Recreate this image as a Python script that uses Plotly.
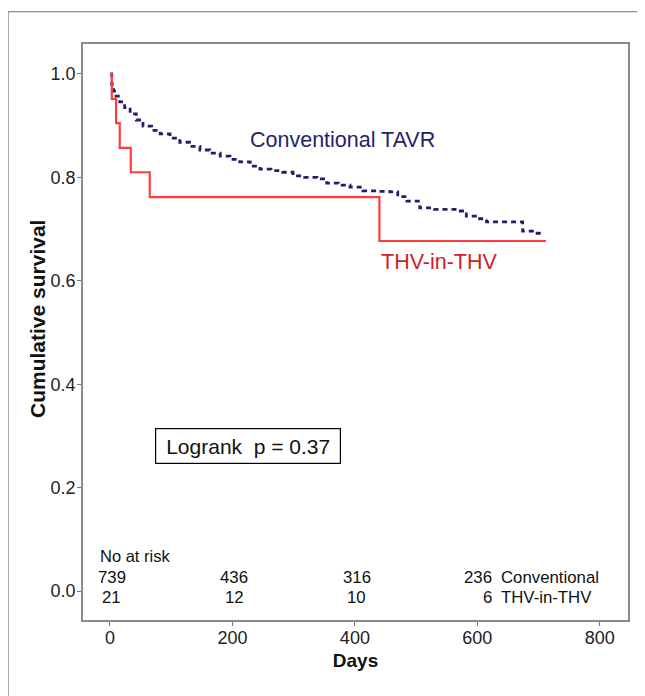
import plotly.graph_objects as go

# ---- data ----
conv_days = [0, 3, 6, 10, 16, 24, 33, 43, 54, 68, 82, 98, 114, 130, 147, 163, 180, 196,
             212, 229, 245, 263, 282, 299, 318, 338, 354, 373, 392, 413, 435, 457, 470,
             485, 506, 530, 566, 582, 600, 615, 640, 656, 674, 690, 710]
conv_surv = [1.0, 0.980, 0.967, 0.957, 0.946, 0.935, 0.923, 0.911, 0.899, 0.891, 0.884,
             0.876, 0.868, 0.860, 0.853, 0.847, 0.841, 0.835, 0.830, 0.822, 0.816, 0.813,
             0.810, 0.803, 0.800, 0.797, 0.789, 0.785, 0.781, 0.774, 0.773, 0.772, 0.763,
             0.754, 0.741, 0.738, 0.735, 0.725, 0.720, 0.714, 0.714, 0.714, 0.696, 0.692,
             0.692]

thv_days = [0, 3, 10, 16, 34, 65, 440, 712]
thv_surv = [1.0, 0.952, 0.905, 0.857, 0.810, 0.762, 0.677, 0.677]

risk_times = [0, 200, 400, 600]
risk_conv = [739, 436, 316, 236]
risk_thv = [21, 12, 10, 6]
risk_groups = ["Conventional", "THV-in-THV"]

x_ticks = [0, 200, 400, 600, 800]
y_ticks = [0.0, 0.2, 0.4, 0.6, 0.8, 1.0]
y_tick_text = ["0.0", "0.2", "0.4", "0.6", "0.8", "1.0"]

FONT = "Liberation Sans, Arial, sans-serif"
NAVY = "#1f1f6e"
RED_LINE = "#ff3b3b"
RED_TEXT = "#cc1f24"

fig = go.Figure()
fig.add_trace(go.Scatter(x=conv_days, y=conv_surv, mode="lines", line_shape="hv",
                         line=dict(color=NAVY, width=2.8, dash="5px,4px"),
                         name="Conventional TAVR", showlegend=False))
fig.add_trace(go.Scatter(x=thv_days, y=thv_surv, mode="lines", line_shape="hv",
                         line=dict(color=RED_LINE, width=2.2),
                         name="THV-in-THV", showlegend=False))

ann = []
ann.append(dict(x=226, y=0.873, xref="x", yref="y", text="Conventional TAVR",
                showarrow=False, xanchor="left", yanchor="middle",
                font=dict(family=FONT, size=21.5, color=NAVY)))
ann.append(dict(x=439, y=0.636, xref="x", yref="y", text="THV-in-THV",
                showarrow=False, xanchor="left", yanchor="middle",
                font=dict(family=FONT, size=21.5, color=RED_TEXT)))
ann.append(dict(x=226, y=0.281, xref="x", yref="y", text="Logrank\u00a0 p = 0.37",
                showarrow=False, xanchor="center", yanchor="middle",
                width=178, height=28, borderpad=3, bordercolor="#000000", borderwidth=1.2,
                bgcolor="white", font=dict(family=FONT, size=21, color="#111111")))
ann.append(dict(x=-20, y=0.068, xref="x", yref="y", text="No at risk",
                showarrow=False, xanchor="left", yanchor="middle",
                font=dict(family=FONT, size=16.5, color="#111111")))
for rows, yv in ((risk_conv, 0.027), (risk_thv, -0.012)):
    for i, (t, v) in enumerate(zip(risk_times, rows)):
        last = i == len(risk_times) - 1
        ann.append(dict(x=t, y=yv, xref="x", yref="y", text=str(v), showarrow=False,
                        xanchor="right" if last else "center", yanchor="middle",
                        xshift=17 if last else 2,
                        font=dict(family=FONT, size=16.8, color="#111111")))
for name, yv in zip(risk_groups, (0.027, -0.012)):
    ann.append(dict(x=600, y=yv, xref="x", yref="y", text=name, showarrow=False,
                    xanchor="left", yanchor="middle", xshift=22,
                    font=dict(family=FONT, size=16.8, color="#111111")))
# y-axis title (placed as annotation to match the reference position)
ann.append(dict(x=-0.0826, y=0.5226, xref="paper", yref="paper",
                text="<b>Cumulative survival</b>", textangle=-90, showarrow=False,
                xanchor="center", yanchor="middle",
                font=dict(family=FONT, size=21, color="#111111")))

fig.update_layout(
    width=637, height=688,
    margin=dict(l=75, r=17, t=36, b=76),
    paper_bgcolor="white", plot_bgcolor="white",
    font=dict(family=FONT, color="#222222"),
    annotations=ann,
    shapes=[dict(type="rect", xref="paper", yref="paper",
                 x0=-0.1376, x1=1.2, y0=-0.3, y1=1.056,
                 line=dict(color="#6e6e6e", width=1.2), fillcolor="rgba(0,0,0,0)",
                 layer="below")],
)
fig.update_xaxes(range=[-44, 846], tickvals=x_ticks, ticks="outside", ticklen=4,
                 tickcolor="#777777", tickwidth=1, showgrid=False, zeroline=False,
                 showline=True, linecolor="#8a8a8a", linewidth=1.5, mirror=True,
                 ticklabelstandoff=-3,
                 tickfont=dict(family=FONT, size=18, color="#222222"),
                 title=dict(text="<b>Days</b>", standoff=6,
                            font=dict(family=FONT, size=19, color="#111111")))
fig.update_yaxes(range=[-0.056, 1.058], tickvals=y_ticks, ticktext=y_tick_text,
                 ticks="outside", ticklen=4, tickcolor="#777777", tickwidth=1,
                 showgrid=False, zeroline=False,
                 showline=True, linecolor="#8a8a8a", linewidth=1.5, mirror=True,
                 ticklabelstandoff=-2,
                 tickfont=dict(family=FONT, size=18, color="#222222"))

fig.write_html("out.html")
